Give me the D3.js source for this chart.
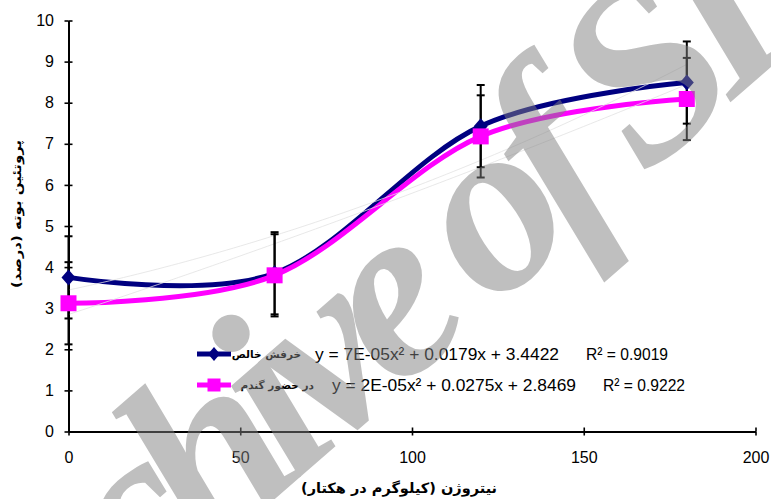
<!DOCTYPE html>
<html>
<head>
<meta charset="utf-8">
<script src="https://cdn.jsdelivr.net/npm/d3@7"></script>
<style>
  html, body { margin: 0; padding: 0; background: #fff; }
  svg { display: block; }
</style>
</head>
<body>
<svg id="chart" width="771" height="499"></svg>
<script>
// ---------- data ----------
const xValues = [0, 60, 120, 180];
const pureValues = [3.75, 3.85, 7.43, 8.49];
const wheatValues = [3.12, 3.8, 7.18, 8.09];
const pureErrors = [1, 1, 1, 1];
const wheatErrors = [1, 1, 1, 1];
const xTicks = [0, 50, 100, 150, 200];
const yTicks = [0, 1, 2, 3, 4, 5, 6, 7, 8, 9, 10];
const seriesNames = ["خرفش خالص", "در حضور گندم"];
const equations = ["y = 7E-05x² + 0.0179x + 3.4422", "y = 2E-05x² + 0.0275x + 2.8469"];
const rSquared = ["R² = 0.9019", "R² = 0.9222"];
const pureCoef = [3.4422, 0.0179, 0.00007];
const wheatCoef = [2.8469, 0.0275, 0.00002];
const yTitle = "پروتئین بوته (درصد)";
const xTitle = "نیتروژن (کیلوگرم در هکتار)";
const watermark = "Archive of SID";

// ---------- setup ----------
const svg = d3.select("#chart");
const x = d3.scaleLinear().domain([0, 200]).range([68.5, 755.5]);
const y = d3.scaleLinear().domain([0, 10]).range([431.5, 20.5]);
const BLUE = "#000080", PINK = "#ff00ff";
const latin = "'Liberation Sans', Arial, sans-serif";
const persian = "'DejaVu Sans', 'Noto Sans', sans-serif";

// ---------- axes ----------
svg.append("g").attr("transform", `translate(${x(0)},0)`)
  .call(d3.axisLeft(y).tickValues(yTicks).tickSizeInner(4).tickSizeOuter(0).tickPadding(10.5));
svg.append("g").attr("transform", `translate(${x(0)},0)`)
  .call(d3.axisRight(y).tickValues(yTicks).tickSizeInner(4).tickSizeOuter(0).tickFormat(""))
  .call(g => g.select(".domain").remove());
svg.append("g").attr("transform", `translate(0,${y(0)})`)
  .call(d3.axisBottom(x).tickValues(xTicks).tickSizeInner(4).tickSizeOuter(0).tickPadding(16));
svg.append("g").attr("transform", `translate(0,${y(0)})`)
  .call(d3.axisTop(x).tickValues(xTicks).tickSizeInner(4).tickSizeOuter(0).tickFormat(""))
  .call(g => g.select(".domain").remove());
svg.selectAll(".domain").attr("stroke", "#000").attr("stroke-width", 2);
svg.selectAll(".tick line").attr("stroke", "#000").attr("stroke-width", 1.6);
svg.selectAll(".tick text").attr("fill", "#000").attr("font-family", latin).attr("font-size", 16);

// axis titles
svg.append("text")
  .attr("transform", `translate(21,214) rotate(-90)`)
  .attr("text-anchor", "middle")
  .attr("font-family", persian).attr("font-weight", "bold").attr("font-size", 12)
  .attr("direction", "rtl")
  .attr("textLength", 148).attr("lengthAdjust", "spacingAndGlyphs")
  .text(yTitle);
svg.append("text")
  .attr("x", 399).attr("y", 493)
  .attr("text-anchor", "middle")
  .attr("font-family", persian).attr("font-weight", "bold").attr("font-size", 14)
  .attr("direction", "rtl")
  .attr("textLength", 196).attr("lengthAdjust", "spacingAndGlyphs")
  .text(xTitle);

// ---------- series ----------
const pts = vals => xValues.map((v, i) => [v, vals[i]]);
const smooth = d3.line().x(d => x(d[0])).y(d => y(d[1])).curve(d3.curveCardinal.tension(0));

svg.append("path").datum(pts(pureValues)).attr("d", smooth)
  .attr("fill", "none").attr("stroke", BLUE).attr("stroke-width", 5);
svg.append("path").datum(pts(wheatValues)).attr("d", smooth)
  .attr("fill", "none").attr("stroke", PINK).attr("stroke-width", 5);

// trendlines (faint)
const trend = c => d3.range(0, 181, 2).map(v => [v, c[0] + c[1] * v + c[2] * v * v]);
const straight = d3.line().x(d => x(d[0])).y(d => y(d[1]));
[pureCoef, wheatCoef].forEach(c => {
  svg.append("path").datum(trend(c)).attr("d", straight)
    .attr("fill", "none").attr("stroke", "#e2e2e2").attr("stroke-width", 1).attr("opacity", 0.8);
});

// error bars
function errorBars(vals, errs) {
  const g = svg.append("g").attr("stroke", "#000").attr("stroke-width", 2);
  xValues.forEach((v, i) => {
    const cx = x(v);
    g.append("line").attr("x1", cx).attr("x2", cx).attr("y1", y(vals[i] - errs[i])).attr("y2", y(vals[i] + errs[i]));
    [vals[i] - errs[i], vals[i] + errs[i]].forEach(e => {
      g.append("line").attr("x1", cx - 4).attr("x2", cx + 4).attr("y1", y(e)).attr("y2", y(e));
    });
  });
}
errorBars(pureValues, pureErrors);
errorBars(wheatValues, wheatErrors);

// markers
const diamond = (hw, hh) => `M0,${-hh}L${hw},0L0,${hh}L${-hw},0Z`;
const square = s => `M${-s / 2},${-s / 2}h${s}v${s}h${-s}Z`;
svg.append("g").selectAll("path").data(pts(pureValues)).join("path")
  .attr("transform", d => `translate(${x(d[0])},${y(d[1])})`)
  .attr("d", diamond(7, 8)).attr("fill", BLUE);
svg.append("g").selectAll("path").data(pts(wheatValues)).join("path")
  .attr("transform", d => `translate(${x(d[0])},${y(d[1])})`)
  .attr("d", square(16)).attr("fill", PINK);

// ---------- legend ----------
const legendRows = [
  { color: BLUE, mark: diamond(6, 7), name: seriesNames[0], nameEnd: 301, eq: equations[0], eqX: 315, r2: rSquared[0], r2X: 586, cy: 354 },
  { color: PINK, mark: square(13), name: seriesNames[1], nameEnd: 314, eq: equations[1], eqX: 332, r2: rSquared[1], r2X: 603, cy: 385 }
];
legendRows.forEach(r => {
  svg.append("line").attr("x1", 197).attr("x2", 231).attr("y1", r.cy).attr("y2", r.cy)
    .attr("stroke", r.color).attr("stroke-width", 5);
  svg.append("path").attr("transform", `translate(214,${r.cy})`).attr("d", r.mark).attr("fill", r.color);
  svg.append("text").attr("x", r.nameEnd).attr("y", r.cy + 4)
    .attr("text-anchor", "start").attr("direction", "rtl")
    .attr("font-family", persian).attr("font-weight", "bold").attr("font-size", 10.5)
    .text(r.name);
  svg.append("text").attr("x", r.eqX).attr("y", r.cy + 6)
    .attr("font-family", latin).attr("font-size", 17)
    .attr("textLength", 244).attr("lengthAdjust", "spacingAndGlyphs")
    .text(r.eq);
  svg.append("text").attr("x", r.r2X).attr("y", r.cy + 6)
    .attr("font-family", latin).attr("font-size", 17)
    .attr("textLength", 82).attr("lengthAdjust", "spacingAndGlyphs")
    .text(r.r2);
});

// ---------- watermark ----------
// letter anchors: index in string -> target centre
const wmAnchors = [[4, 263, 432], [5, 344, 367], [6, 388, 325], [8, 495, 235], [9, 553, 180]];
const wm = svg.append("text")
  .attr("x", 0).attr("y", 0)
  .attr("font-family", "'Liberation Serif', 'Times New Roman', serif")
  .attr("font-style", "italic").attr("font-weight", "bold")
  .attr("font-size", 200).attr("letter-spacing", -18)
  .attr("fill", "#808080").attr("opacity", 0.5)
  .text(watermark);
try {
  const node = wm.node();
  const P = wmAnchors.map(a => { const r = node.getExtentOfChar(a[0]); return [r.x + r.width / 2, r.y + r.height * 0.6]; });
  const Q = wmAnchors.map(a => [a[1], a[2]]);
  const pm = [d3.mean(P, p => p[0]), d3.mean(P, p => p[1])];
  const qm = [d3.mean(Q, p => p[0]), d3.mean(Q, p => p[1])];
  let nr = 0, ni = 0, den = 0;
  P.forEach((p, i) => {
    const px = p[0] - pm[0], py = p[1] - pm[1];
    const qx = Q[i][0] - qm[0], qy = Q[i][1] - qm[1];
    nr += qx * px + qy * py; ni += qy * px - qx * py; den += px * px + py * py;
  });
  const ar = nr / den, ai = ni / den;
  const bx = qm[0] - (ar * pm[0] - ai * pm[1]);
  const by = qm[1] - (ai * pm[0] + ar * pm[1]);
  wm.attr("transform", `matrix(${ar},${ai},${-ai},${ar},${bx},${by})`);
} catch (e) {
  wm.attr("transform", "translate(455,378) rotate(-43)").attr("text-anchor", "middle");
}
</script>
</body>
</html>
